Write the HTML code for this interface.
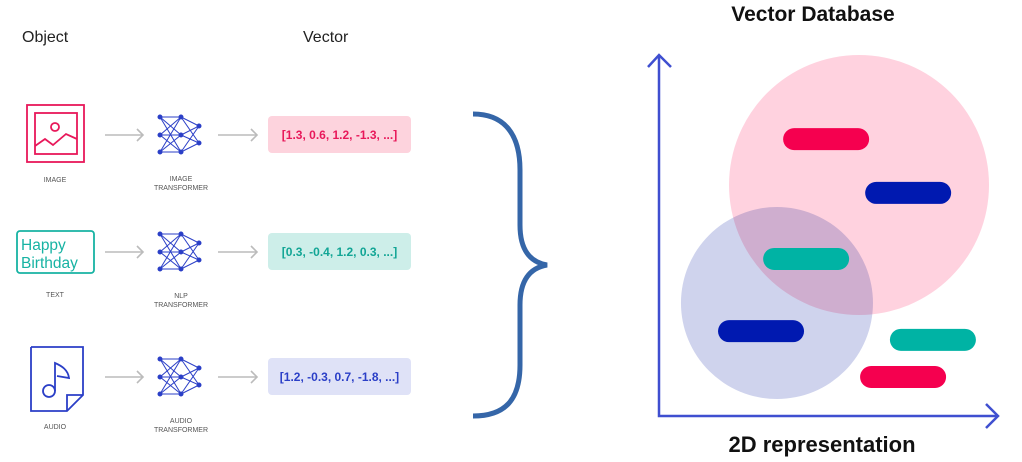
<!DOCTYPE html>
<html><head><meta charset="utf-8"><style>
html,body{margin:0;padding:0;background:#fff;}
svg{display:block;font-family:"Liberation Sans",sans-serif;}
</style></head><body>
<svg id="s" width="1022" height="462" viewBox="0 0 1022 462">
<text x="22" y="42" font-size="16" fill="#222">Object</text>
<text x="303" y="42" font-size="16" fill="#222">Vector</text>

<g fill="none" stroke="#e8185a" stroke-width="1.8">
<rect x="27" y="105" width="57" height="57"/><rect x="35" y="113" width="42" height="41"/>
<circle cx="55" cy="127" r="4"/><polyline points="35,146 45,139 53,145 66,134 77,139"/>
</g>
<text x="55" y="182" font-size="7" fill="#555" text-anchor="middle">IMAGE</text>

<g>
<rect x="17" y="231" width="77" height="42" rx="3" fill="none" stroke="#17b3a3" stroke-width="1.8"/>
<text x="21" y="250" font-size="15.5" fill="#17b3a3">Happy</text>
<text x="21" y="268" font-size="15.5" fill="#17b3a3">Birthday</text>
</g>
<text x="55" y="297" font-size="7" fill="#555" text-anchor="middle">TEXT</text>

<g fill="none" stroke="#2b3fc7" stroke-width="1.8">
<polyline points="31,347 83,347 83,395 67,411 31,411 31,347"/><polyline points="83,395 67,395 67,411"/>
<circle cx="49" cy="391" r="6"/><path d="M55,391 L55,363 C62,366 68,370 69,378 L57,376"/>
</g>
<text x="55" y="429" font-size="7" fill="#555" text-anchor="middle">AUDIO</text>

<g id="rows"></g>

<path d="M473,114 C505,114 520,135 520,170 L520,225 C520,250 530,262 547,265 C530,268 520,280 520,305 L520,365 C520,400 505,416 473,416" fill="none" stroke="#3566a8" stroke-width="5"/>

<text x="813" y="21" font-size="21" font-weight="bold" fill="#111" text-anchor="middle">Vector Database</text>
<text x="822" y="452" font-size="22" font-weight="bold" fill="#111" text-anchor="middle">2D representation</text>
<g id="plot"></g>
<g fill="none" stroke="#3f4fd0" stroke-width="2.5">
<polyline points="659,55 659,416 998,416"/><polyline points="648,67 659,55 671,67"/><polyline points="986,404 998,416 986,428"/>
</g>
</svg>
<script>
const NS='http://www.w3.org/2000/svg';
const rowNames=['image','text','audio'];
const transformerLabels=[['IMAGE','TRANSFORMER'],['NLP','TRANSFORMER'],['AUDIO','TRANSFORMER']];
const vectorTexts=['[1.3, 0.6, 1.2, -1.3, ...]','[0.3, -0.4, 1.2, 0.3, ...]','[1.2, -0.3, 0.7, -1.8, ...]'];
const rowOffsets=[0,117,242];
const boxFills=['#fdd3dd','#cdeee9','#dfe2f7'];
const textFills=['#e8185a','#12a595','#2b3fc7'];

const circleNames=['cluster-pink','cluster-purple'];
const circleX=[59.0,34.8];
const circleY=[64.0,31.3];
const circleR=[130,96];
const barNames=['pink-1','navy-1','teal-1','navy-2','teal-2','pink-2'];
const barX=[49.3,73.5,43.4,30.1,80.8,72.0];
const barY=[76.7,61.8,43.5,23.5,21.1,10.8];
const barColors=['#f5004f','#0019b0','#00b3a4','#0019b0','#00b3a4','#f5004f'];

function mk(t,a,p){const e=document.createElementNS(NS,t);for(const k in a)e.setAttribute(k,a[k]);p.appendChild(e);return e;}
const rows=document.getElementById('rows');
rowNames.forEach((n,i)=>{
  const o=rowOffsets[i];
  const g=mk('g',{},rows);
  
  
  [[105,143],[218,257]].forEach(([a,b])=>{
    mk('line',{x1:a,y1:135+o,x2:b,y2:135+o,stroke:'#bbb','stroke-width':1.6},g);
    mk('polyline',{points:(b-6)+','+(129+o)+' '+b+','+(135+o)+' '+(b-6)+','+(141+o),fill:'none',stroke:'#bbb','stroke-width':1.6},g);
  });
  const c1=[117,135,152],c3=[126,143];
  const net=mk('g',{stroke:'#2b3fc7','stroke-width':1,fill:'#2b3fc7'},g);
  
  
  c1.forEach(a=>c1.forEach(b=>mk('line',{x1:160,y1:a+o,x2:181,y2:b+o},net)));
  c1.forEach(a=>c3.forEach(b=>mk('line',{x1:181,y1:a+o,x2:199,y2:b+o},net)));
  c1.forEach(a=>{mk('circle',{cx:160,cy:a+o,r:2},net);mk('circle',{cx:181,cy:a+o,r:2},net);});
  c3.forEach(a=>mk('circle',{cx:199,cy:a+o,r:2},net));
  transformerLabels[i].forEach((t,j)=>{const tx=mk('text',{x:181,y:181+o+j*9,'font-size':7,fill:'#555','text-anchor':'middle'},g);tx.textContent=t;});
  const box=mk('rect',{x:268,y:116+o,width:143,height:37,rx:4,fill:boxFills[i]},g);
  
  
  const vt=mk('text',{x:339.5,y:139+o,'font-size':12,'font-weight':'bold',fill:textFills[i],'text-anchor':'middle'},g);
  vt.textContent=vectorTexts[i];
});

const plot=document.getElementById('plot');
const sx=v=>659+v/100*339, sy=v=>416-v/100*361;
circleNames.forEach((n,i)=>{
  const c=mk('circle',{cx:sx(circleX[i]),cy:sy(circleY[i]),r:circleR[i],fill:i?'#cfd3ed':'#ffd2df'},plot);
  if(i)c.style.mixBlendMode='multiply';
  
  
});
barNames.forEach((n,i)=>{
  const r=mk('rect',{x:sx(barX[i])-43,y:sy(barY[i])-11,width:86,height:22,rx:11,fill:barColors[i]},plot);
  
  
});
</script>
</body></html>
